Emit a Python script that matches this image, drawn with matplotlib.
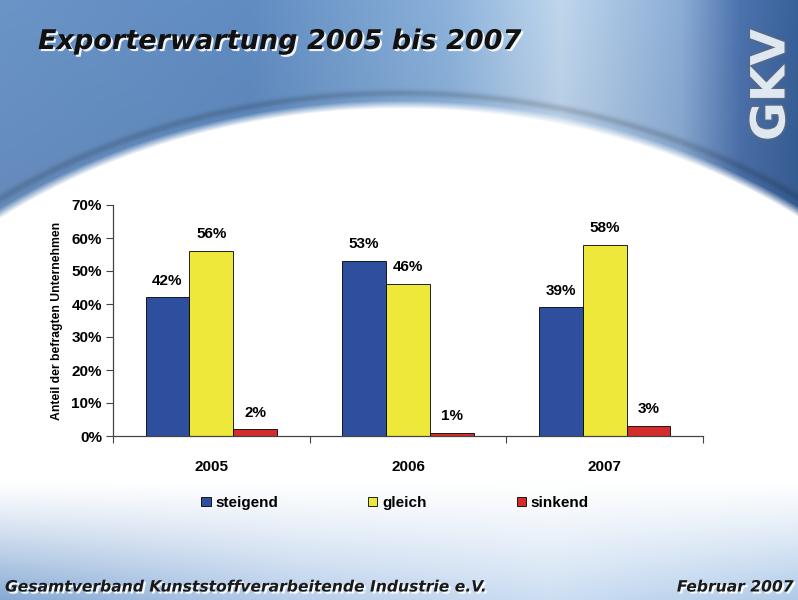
import numpy as np
import matplotlib
matplotlib.use('Agg')
import matplotlib.pyplot as plt
import matplotlib.patheffects as pe

# chart data
years = ['2005', '2006', '2007']
steigend = [42, 53, 39]
gleich = [56, 46, 58]
sinkend = [2, 1, 3]
series_names = ['steigend', 'gleich', 'sinkend']
colors = ['#2e4e9e', '#eee83a', '#d42b2b']
yticks = [0, 10, 20, 30, 40, 50, 60, 70]

W, H = 798, 600

# background: blue slide with white swoosh
yy, xx = np.mgrid[0:H, 0:W].astype(float)
top_x = [0, 250, 450, 560, 680, 740, 798]
top_r = [0.42, 0.38, 0.55, 0.75, 0.55, 0.30, 0.22]
top_g = [0.58, 0.55, 0.70, 0.84, 0.68, 0.45, 0.38]
top_b = [0.78, 0.76, 0.86, 0.93, 0.84, 0.68, 0.60]
top = np.stack([np.interp(xx, top_x, c) for c in (top_r, top_g, top_b)], axis=-1)
top = top * (1 - 0.06 * np.clip(yy / 200, 0, 1))[..., None]

bot_x = [0, 300, 550, 798]
bot_r = [0.52, 0.72, 0.80, 0.68]
bot_g = [0.66, 0.81, 0.87, 0.79]
bot_b = [0.83, 0.92, 0.95, 0.91]
bot = np.stack([np.interp(xx, bot_x, c) for c in (bot_r, bot_g, bot_b)], axis=-1)

white = np.ones_like(top)
t = np.clip((yy - 480) / 120, 0, 1) ** 1.2
inner = white * (1 - t[..., None]) + bot * t[..., None]

cx, cy, a, b = 400, 590, 640, 490
d = ((xx - cx) / a) ** 2 + ((yy - cy) / b) ** 2
m = np.clip((1 - d) * 30, 0, 1)
# light band along the edge
band = np.exp(-((d - 1.03) / 0.015) ** 2) * 0.15
top = top * (1 - band[..., None])
img = top * (1 - m[..., None]) + inner * m[..., None]

fig = plt.figure(figsize=(W / 100, H / 100), dpi=100)
bg = fig.add_axes([0, 0, 1, 1], zorder=0)
bg.imshow(img, aspect='auto', extent=(0, W, H, 0), interpolation='bilinear')
bg.set_xlim(0, W)
bg.set_ylim(H, 0)
bg.axis('off')

shadow = [pe.withSimplePatchShadow(offset=(1.5, -1.5), shadow_rgbFace='white', alpha=0.9)]
fig.text(38 / W, 1 - 42 / H, 'Exporterwartung 2005 bis 2007', fontsize=19.5,
         fontweight='bold', fontstyle='italic', color='#111111',
         va='center', ha='left', path_effects=shadow)
fig.text(5 / W, 1 - 587 / H, 'Gesamtverband Kunststoffverarbeitende Industrie e.V.',
         fontsize=11.2, fontweight='bold', fontstyle='italic', color='#1a1a1a',
         va='center', ha='left', path_effects=shadow)
fig.text(793 / W, 1 - 587 / H, 'Februar 2007', fontsize=11.2, fontweight='bold',
         fontstyle='italic', color='#1a1a1a', va='center', ha='right', path_effects=shadow)
fig.text(772 / W, 1 - 85 / H, 'GKV', fontsize=34, fontweight='bold', rotation=90,
         color='#dfe7f0', va='center', ha='center',
         path_effects=[pe.withStroke(linewidth=2, foreground='#5a6a80')])

# the chart
plt.rcParams['font.family'] = ['Liberation Sans', 'DejaVu Sans']
ax = fig.add_axes([113 / W, 1 - 436 / H, 590 / W, 231 / H], zorder=1)
ax.patch.set_alpha(0)

x = np.arange(len(years))
w = 0.223
for i, (vals, name, c) in enumerate(zip([steigend, gleich, sinkend], series_names, colors)):
    pos = x + (i - 1) * w
    ax.bar(pos, vals, width=w, color=c, edgecolor='black', linewidth=0.6, label=name)
    for px, v in zip(pos, vals):
        ax.annotate(f'{v}%', (px, v), xytext=(0, 7), textcoords='offset points',
                    ha='center', va='bottom', fontsize=11, fontweight='bold',
                    family=['Liberation Sans', 'DejaVu Sans'])

ax.set_xlim(-0.5, 2.5)
ax.set_ylim(0, 70)
ax.set_yticks(yticks)
ax.set_yticklabels([f'{v}%' for v in yticks], fontsize=11, fontweight='bold',
                   family=['Liberation Sans', 'DejaVu Sans'])
ax.set_xticks([-0.5, 0.5, 1.5, 2.5])
ax.set_xticklabels([])
ax.set_xticks(x, minor=True)
ax.set_xticklabels(years, minor=True, fontsize=11, fontweight='bold',
                   family=['Liberation Sans', 'DejaVu Sans'])
ax.tick_params(axis='x', which='minor', length=0, pad=17)
ax.tick_params(axis='x', which='major', length=5, direction='out', color='#444444')
ax.tick_params(axis='y', length=5, direction='out', color='#444444', pad=3)
for s in ['top', 'right']:
    ax.spines[s].set_visible(False)
for s in ['left', 'bottom']:
    ax.spines[s].set_color('#444444')
    ax.spines[s].set_linewidth(0.9)

ax.set_ylabel('Anteil der befragten Unternehmen', fontsize=8.8, fontweight='bold',
              family=['Liberation Sans', 'DejaVu Sans'], labelpad=6)

handles, labels = ax.get_legend_handles_labels()
fig.legend(handles, labels, loc='center', bbox_to_anchor=(395 / W, 1 - 503 / H), ncol=3,
           frameon=False, columnspacing=5.9, handlelength=0.6, handleheight=0.6,
           handletextpad=0.3,
           prop={'family': ['Liberation Sans', 'DejaVu Sans'], 'weight': 'bold', 'size': 11})

fig.savefig('out.png', dpi=100)
